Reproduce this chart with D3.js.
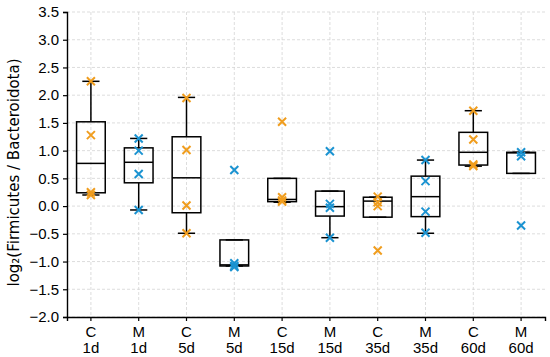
<!DOCTYPE html>
<html>
<head>
<meta charset="utf-8">
<script src="https://cdn.jsdelivr.net/npm/d3@7"></script>
<style>
  body { margin: 0; background: #fff; }
  svg { display: block; font-family: "DejaVu Sans", sans-serif; }
</style>
</head>
<body>
<div id="chart"></div>
<script>
// groups along x
const groups = ["C\n1d", "M\n1d", "C\n5d", "M\n5d", "C\n15d", "M\n15d", "C\n35d", "M\n35d", "C\n60d", "M\n60d"];
const groupType = ["C", "M", "C", "M", "C", "M", "C", "M", "C", "M"];

// box stats: [whisker low, q1, median, q3, whisker high]
const boxStats = [
  [0.20, 0.24, 0.77, 1.52, 2.25],
  [-0.07, 0.42, 0.79, 1.05, 1.22],
  [-0.49, -0.12, 0.51, 1.25, 1.96],
  [-1.08, -1.08, -1.06, -0.61, -0.61],
  [0.07, 0.08, 0.12, 0.50, 0.50],
  [-0.57, -0.18, -0.01, 0.27, 0.27],
  [-0.20, -0.20, 0.09, 0.16, 0.16],
  [-0.49, -0.19, 0.17, 0.54, 0.83],
  [0.72, 0.74, 0.97, 1.33, 1.72],
  [0.59, 0.59, 0.96, 0.97, 0.97]
];

// individual samples per group
const samples = [
  [2.25, 1.28, 0.25, 0.20],
  [1.22, 1.00, 0.58, -0.07],
  [1.95, 1.01, 0.01, -0.49],
  [0.65, -1.03, -1.08, -1.10],
  [1.52, 0.16, 0.10, 0.08],
  [0.99, 0.04, -0.03, -0.57],
  [0.17, 0.07, 0.00, -0.80],
  [0.83, 0.45, -0.10, -0.48],
  [1.72, 1.20, 0.75, 0.72],
  [0.97, 0.90, -0.35]
];

const yTicks = d3.range(-2.0, 3.51, 0.5);

const colors = { C: "#f09d1e", M: "#1b93d1" };

const width = 550, height = 357;
const margin = { top: 12, right: 5, bottom: 40, left: 67 };
const innerW = width - margin.left - margin.right;
const innerH = height - margin.top - margin.bottom;
const fs = 15;

const svg = d3.select("#chart").append("svg")
  .attr("width", width)
  .attr("height", height);

const g = svg.append("g")
  .attr("transform", `translate(${margin.left},${margin.top})`);

const x = d3.scaleBand().domain(d3.range(groups.length)).range([0, innerW]);
const y = d3.scaleLinear().domain([-2.0, 3.5]).range([innerH, 0]);
const cx = i => x(i) + x.bandwidth() / 2;

// grid
g.append("g").selectAll("line")
  .data(yTicks)
  .join("line")
    .attr("x1", 0).attr("x2", innerW)
    .attr("y1", d => y(d)).attr("y2", d => y(d))
    .attr("stroke", "#d4d4d4")
    .attr("stroke-width", 0.8)
    .attr("stroke-dasharray", "3,2");

g.append("g").selectAll("line")
  .data(d3.range(groups.length))
  .join("line")
    .attr("x1", d => cx(d)).attr("x2", d => cx(d))
    .attr("y1", 0).attr("y2", innerH)
    .attr("stroke", "#d4d4d4")
    .attr("stroke-width", 0.8)
    .attr("stroke-dasharray", "3,2");

// axes
const yAxis = g.append("g")
  .call(d3.axisLeft(y).tickValues(yTicks).tickSize(4).tickPadding(4)
    .tickFormat(d => d3.format(".1f")(d).replace("-", "\u2212")));
yAxis.selectAll("text").attr("font-size", fs).attr("fill", "#000");
yAxis.selectAll(".tick line").attr("stroke-width", 1.2);
yAxis.select(".domain").attr("stroke", "#000").attr("stroke-width", 1.4);

const xAxis = g.append("g")
  .attr("transform", `translate(0,${innerH})`)
  .call(d3.axisBottom(x).tickSize(4).tickFormat(""));
xAxis.select(".domain").attr("stroke", "#000").attr("stroke-width", 1.4);
xAxis.selectAll(".tick line").attr("stroke-width", 1.2);
xAxis.selectAll(".tick").each(function (d) {
  const t = d3.select(this).append("text")
    .attr("fill", "#000")
    .attr("font-size", fs)
    .attr("text-anchor", "middle");
  groups[d].split("\n").forEach((line, k) => {
    t.append("tspan").attr("x", 0).attr("y", 20 + k * 16).text(line);
  });
});

// y label
svg.append("text")
  .attr("transform", `translate(19,${margin.top + innerH / 2 + 8}) rotate(-90)`)
  .attr("text-anchor", "middle")
  .attr("font-size", fs)
  .text("log\u2082(Firmicutes / Bacteroidota)");

// boxes
const boxW = x.bandwidth() * 0.6;
const capW = x.bandwidth() * 0.36;
const sw = 1.5;
const boxes = g.append("g").selectAll("g")
  .data(boxStats)
  .join("g");

boxes.append("line")
  .attr("x1", (d, i) => cx(i)).attr("x2", (d, i) => cx(i))
  .attr("y1", d => y(d[3])).attr("y2", d => y(d[4]))
  .attr("stroke", "#000").attr("stroke-width", sw);
boxes.append("line")
  .attr("x1", (d, i) => cx(i)).attr("x2", (d, i) => cx(i))
  .attr("y1", d => y(d[0])).attr("y2", d => y(d[1]))
  .attr("stroke", "#000").attr("stroke-width", sw);
boxes.append("line")
  .attr("x1", (d, i) => cx(i) - capW / 2).attr("x2", (d, i) => cx(i) + capW / 2)
  .attr("y1", d => y(d[4])).attr("y2", d => y(d[4]))
  .attr("stroke", "#000").attr("stroke-width", sw);
boxes.append("line")
  .attr("x1", (d, i) => cx(i) - capW / 2).attr("x2", (d, i) => cx(i) + capW / 2)
  .attr("y1", d => y(d[0])).attr("y2", d => y(d[0]))
  .attr("stroke", "#000").attr("stroke-width", sw);
boxes.append("rect")
  .attr("x", (d, i) => cx(i) - boxW / 2)
  .attr("width", boxW)
  .attr("y", d => y(d[3]))
  .attr("height", d => y(d[1]) - y(d[3]))
  .attr("fill", "none")
  .attr("stroke", "#000").attr("stroke-width", sw);
boxes.append("line")
  .attr("x1", (d, i) => cx(i) - boxW / 2).attr("x2", (d, i) => cx(i) + boxW / 2)
  .attr("y1", d => y(d[2])).attr("y2", d => y(d[2]))
  .attr("stroke", "#000").attr("stroke-width", sw);

// sample markers (x)
const pts = [];
samples.forEach((arr, i) => arr.forEach(v => pts.push({ i, v })));
const s = 4;
g.append("g").selectAll("path")
  .data(pts)
  .join("path")
    .attr("d", d => {
      const px = cx(d.i), py = y(d.v);
      return `M${px - s},${py - s}L${px + s},${py + s}M${px - s},${py + s}L${px + s},${py - s}`;
    })
    .attr("stroke", d => colors[groupType[d.i]])
    .attr("stroke-width", 2)
    .attr("fill", "none");
</script>
</body>
</html>
